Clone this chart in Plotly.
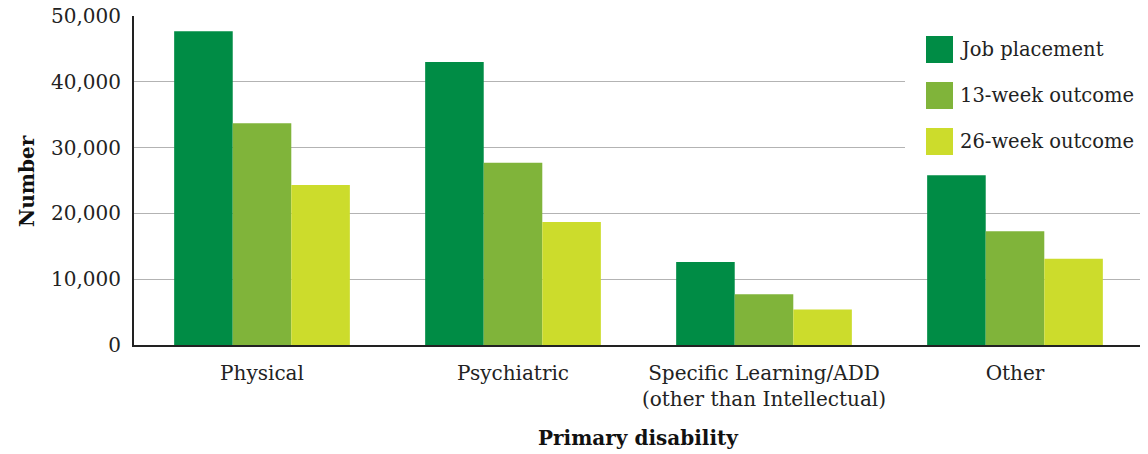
import plotly.graph_objects as go

categories = ["Physical", "Psychiatric", "Specific Learning/ADD<br>(other than Intellectual)", "Other"]
series_names = ["Job placement", "13-week outcome", "26-week outcome"]
job_placement = [47700, 43000, 12600, 25800]
week13 = [33700, 27700, 7700, 17300]
week26 = [24300, 18700, 5400, 13100]
colors = ["#008C45", "#80B43A", "#CCDC2C"]
y_ticks = [0, 10000, 20000, 30000, 40000, 50000]
y_tick_labels = ["0", "10,000", "20,000", "30,000", "40,000", "50,000"]

FONT = "DejaVu Serif"

fig = go.Figure()
for name, vals, col in zip(series_names, [job_placement, week13, week26], colors):
    fig.add_trace(go.Bar(x=categories, y=vals, name=name, marker_color=col,
                         marker_line_width=0, showlegend=False))

W, H = 1148, 454
ml, mr, mt, mb = 134, 8, 16, 109
pw, ph = W - ml - mr, H - mt - mb

def px(x):
    return (x - ml) / pw

def py(y):
    return (H - mb - y) / ph

shapes = []
annotations = []
# legend background
shapes.append(dict(type="rect", xref="paper", yref="paper", x0=px(905), x1=px(1150),
                   y0=py(165), y1=py(24), fillcolor="white", line_width=0, layer="above"))
for i, (name, col) in enumerate(zip(series_names, colors)):
    top = 36 + i * 46
    shapes.append(dict(type="rect", xref="paper", yref="paper", x0=px(926), x1=px(953),
                       y0=py(top + 27), y1=py(top), fillcolor=col, line_width=0, layer="above"))
    annotations.append(dict(text=name, xref="paper", yref="paper", x=px(958), y=py(top + 13.5),
                            xanchor="left", yanchor="middle", showarrow=False,
                            font=dict(family=FONT, size=19.5, color="#222")))

# axis titles
annotations.append(dict(text="<b>Primary disability</b>", xref="paper", yref="paper",
                        x=px(638), y=py(438), xanchor="center", yanchor="middle", showarrow=False,
                        font=dict(family=FONT, size=20, color="#111")))
annotations.append(dict(text="<b>Number</b>", xref="paper", yref="paper",
                        x=px(27), y=py(181), xanchor="center", yanchor="middle", showarrow=False,
                        textangle=-90, font=dict(family=FONT, size=20, color="#111")))

fig.update_layout(
    width=W, height=H,
    margin=dict(l=ml, r=mr, t=mt, b=mb, autoexpand=False),
    paper_bgcolor="white", plot_bgcolor="white",
    barmode="group", bargap=0.30, bargroupgap=0,
    font=dict(family=FONT, size=20, color="#222"),
    xaxis=dict(showline=True, linecolor="#222", linewidth=2, ticks="", automargin=False,
               tickfont=dict(family=FONT, size=20, color="#222"), ticklabelstandoff=9,
               range=[-0.51, 3.498]),
    yaxis=dict(range=[0, 50000], tickvals=y_ticks, ticktext=y_tick_labels, automargin=False,
               showline=True, linecolor="#222", linewidth=2, ticks="",
               showgrid=True, gridcolor="#b3b3b3", gridwidth=1,
               tickfont=dict(family=FONT, size=20, color="#222"), ticklabelstandoff=7,
               zeroline=False),
    shapes=shapes, annotations=annotations,
)

fig.write_html("out.html", config={"displayModeBar": False},
               post_script="document.body.style.margin='0';document.body.style.overflow='hidden';")
